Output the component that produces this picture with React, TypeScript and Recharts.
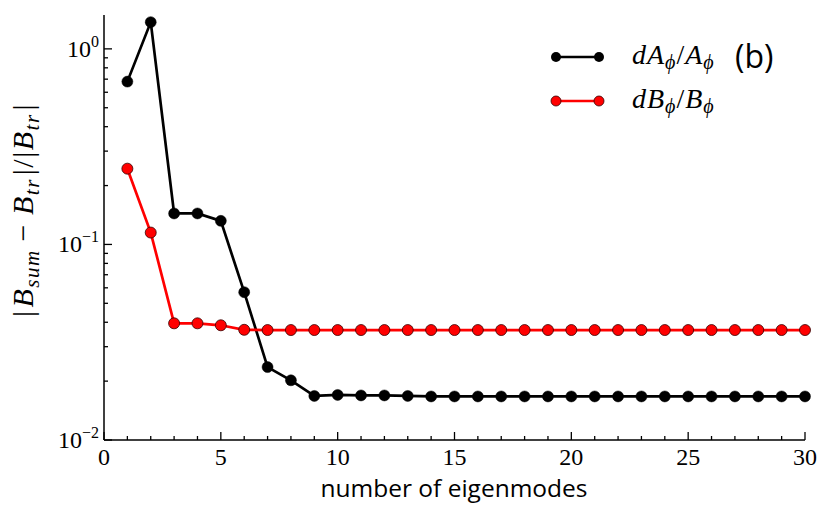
import React from "react";
import { LineChart, Line, XAxis, YAxis } from "recharts";

// values
const modes = Array.from({ length: 30 }, (_, i) => i + 1);
const dA = [
  0.68, 1.37, 0.144, 0.144, 0.132, 0.057, 0.0236, 0.0202, 0.0168, 0.017,
  0.0169, 0.0169, 0.0168, 0.0167, 0.0167, 0.0167, 0.0167, 0.0167, 0.0167, 0.0167,
  0.0167, 0.0167, 0.0167, 0.0167, 0.0167, 0.0167, 0.0167, 0.0167, 0.0167, 0.0167,
];
const dB = [
  0.244, 0.115, 0.0395, 0.0395, 0.0386, 0.0366, 0.0365, 0.0365, 0.0365, 0.0365,
  0.0365, 0.0365, 0.0365, 0.0365, 0.0365, 0.0365, 0.0365, 0.0365, 0.0365, 0.0365,
  0.0365, 0.0365, 0.0365, 0.0365, 0.0365, 0.0365, 0.0365, 0.0365, 0.0365, 0.0365,
];
const xTicks = Array.from({ length: 31 }, (_, i) => i);
const yTicks = [
  0.01, 0.02, 0.03, 0.04, 0.05, 0.06, 0.07, 0.08, 0.09,
  0.1, 0.2, 0.3, 0.4, 0.5, 0.6, 0.7, 0.8, 0.9, 1,
];
const yMajor: Record<string, string> = { "0.01": "−2", "0.1": "−1", "1": "0" };

const data = modes.map((m, i) => ({ m, dA: dA[i], dB: dB[i] }));

const SERIF = "'Liberation Serif', 'DejaVu Serif', serif";
const SANS = "'Open Sans', 'Noto Sans', sans-serif";
const INK = "#000";
const RED = "#ff0000";

function XTick({ x, y, payload, top }: any) {
  const major = payload.value % 5 === 0;
  const len = major ? 8 : 4;
  const dir = top ? 1 : -1;
  return (
    <g>
      <line x1={x} y1={y} x2={x} y2={y + dir * len} stroke={INK} strokeWidth={1.3} />
      {!top && major && (
        <text x={x} y={y + 25} textAnchor="middle" fontFamily={SERIF} fontSize={24} fill={INK}>
          {payload.value}
        </text>
      )}
    </g>
  );
}

function YTick({ x, y, payload, right }: any) {
  const exp = yMajor[String(payload.value)];
  const len = exp ? 8 : 4;
  const dir = right ? -1 : 1;
  return (
    <g>
      <line x1={x} y1={y} x2={x + dir * len} y2={y} stroke={INK} strokeWidth={1.3} />
      {!right && exp && (
        <text x={x - 5} y={y + 8} textAnchor="end" fontFamily={SERIF} fontSize={24} fill={INK}>
          10
          <tspan dy={-10} fontSize={16}>{exp}</tspan>
        </text>
      )}
    </g>
  );
}

function Overlay() {
  return (
    <svg width={830} height={519} style={{ position: "absolute", left: 0, top: 0, pointerEvents: "none" }}>
      <text x={454} y={497} textAnchor="middle" fontFamily={SANS} fontSize={24.5} fill={INK}>
        number of eigenmodes
      </text>
      <text
        transform="translate(33 210) rotate(-90)"
        textAnchor="middle"
        fontFamily={SERIF}
        fontSize={30}
        letterSpacing={1.5}
        fill={INK}
      >
        |<tspan fontStyle="italic" dx={2}>B</tspan>
        <tspan fontStyle="italic" fontSize={21} dy={6}>sum</tspan>
        <tspan dy={-6} dx={8}>−</tspan>
        <tspan fontStyle="italic" dx={8}>B</tspan>
        <tspan fontStyle="italic" fontSize={21} dy={6}>tr</tspan>
        <tspan dy={-6} dx={3}>|/|</tspan>
        <tspan fontStyle="italic">B</tspan>
        <tspan fontStyle="italic" fontSize={21} dy={6}>tr</tspan>
        <tspan dy={-6} dx={3}>|</tspan>
      </text>
      {/* legend */}
      <line x1={556} y1={57} x2={599} y2={57} stroke={INK} strokeWidth={2.5} />
      <circle cx={556} cy={57} r={5} fill={INK} />
      <circle cx={599} cy={57} r={5} fill={INK} />
      <text x={632} y={64} fontFamily={SERIF} fontSize={28} letterSpacing={1} fill={INK} fontStyle="italic">
        dA<tspan fontSize={20} dy={5}>ϕ</tspan>
        <tspan dy={-5} fontStyle="normal">/</tspan>A<tspan fontSize={20} dy={5}>ϕ</tspan>
      </text>
      <text x={735} y={68} fontFamily={SANS} fontSize={32} fill={INK}>(b)</text>
      <line x1={556} y1={101} x2={599} y2={101} stroke={RED} strokeWidth={2.5} />
      <circle cx={556} cy={101} r={5} fill={RED} stroke="#300" strokeWidth={0.8} />
      <circle cx={599} cy={101} r={5} fill={RED} stroke="#300" strokeWidth={0.8} />
      <text x={632} y={108} fontFamily={SERIF} fontSize={28} letterSpacing={1} fill={INK} fontStyle="italic">
        dB<tspan fontSize={20} dy={5}>ϕ</tspan>
        <tspan dy={-5} fontStyle="normal">/</tspan>B<tspan fontSize={20} dy={5}>ϕ</tspan>
      </text>
    </svg>
  );
}

export default function App() {
  return (
    <div style={{ position: "absolute", left: 0, top: 0, width: 830, height: 519, background: "#fff" }}>
      <LineChart width={830} height={519} data={data} margin={{ top: 15, right: 25, left: 0, bottom: 0 }}>
        <XAxis
          dataKey="m"
          type="number"
          domain={[0, 30]}
          ticks={xTicks}
          interval={0}
          height={79}
          tickSize={0}
          tickMargin={0}
          axisLine={{ stroke: INK, strokeWidth: 1.5 }}
          tick={<XTick />}
        />
        <XAxis
          xAxisId="top"
          orientation="top"
          dataKey="m"
          type="number"
          domain={[0, 30]}
          ticks={xTicks}
          interval={0}
          height={0}
          tickSize={0}
          tickMargin={0}
          axisLine={{ stroke: INK, strokeWidth: 1.5 }}
          tick={<XTick top />}
        />
        <YAxis
          scale="log"
          domain={[0.01, 1.49]}
          allowDataOverflow
          ticks={yTicks}
          interval={0}
          width={104}
          tickSize={0}
          tickMargin={0}
          axisLine={{ stroke: INK, strokeWidth: 1.5 }}
          tick={<YTick />}
        />
        <YAxis
          yAxisId="right"
          orientation="right"
          scale="log"
          domain={[0.01, 1.49]}
          allowDataOverflow
          ticks={yTicks}
          interval={0}
          width={0}
          tickSize={0}
          tickMargin={0}
          axisLine={{ stroke: INK, strokeWidth: 1.5 }}
          tick={<YTick right />}
        />
        <Line
          dataKey="dA"
          stroke={INK}
          strokeWidth={2.7}
          dot={{ r: 5.5, fill: INK, stroke: INK, strokeWidth: 0.5 }}
          isAnimationActive={false}
        />
        <Line
          dataKey="dB"
          stroke={RED}
          strokeWidth={2.7}
          dot={{ r: 5.5, fill: RED, stroke: "#300", strokeWidth: 0.8 }}
          isAnimationActive={false}
        />
      </LineChart>
      <Overlay />
    </div>
  );
}
